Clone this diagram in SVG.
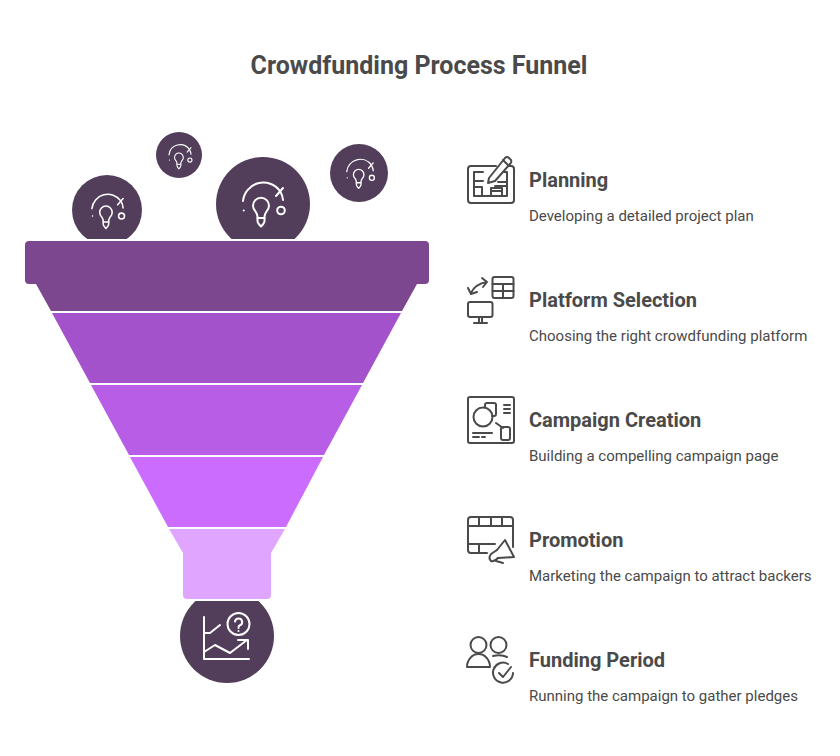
<svg xmlns="http://www.w3.org/2000/svg" width="840" height="756" viewBox="0 0 840 756">
<style>
text{font-family:Roboto,"Liberation Sans",sans-serif;fill:#4a4a4a}
.t{font-size:25px;font-weight:700}
.h{font-size:20px;font-weight:700}
.d{font-size:15px}
.c{fill:#523e5a}
.w{fill:none;stroke:#fff;stroke-width:2;stroke-linecap:round;stroke-linejoin:round}
.i{fill:none;stroke:#4a4a4a;stroke-width:2;stroke-linecap:round;stroke-linejoin:round}
</style>
<defs>
<clipPath id="top"><rect x="0" y="0" width="840" height="239"/></clipPath>
<clipPath id="bot"><rect x="0" y="601" width="840" height="155"/></clipPath>
<g id="bulb" class="w">
<path d="M-20-3A20.500 20.500 0 0 1 17-13Q20-8 20-4"/>
<path d="M13-8 20-16"/>
<path d="M-5.500 14V12.500Q-5.500 10.500-7.500 7.500A8 8 0 1 1 3.500 7.500Q1.500 10.500 1.500 12.500V14Z"/>
<path d="M-5.500 14V17Q-5.500 19-2 22.500Q1.500 19 1.500 17V14"/>
<circle cx="18" cy="6.500" r="3.800"/>
<path d="M-19.300 6.500h.1"/>
</g>
</defs>
<text class="t" x="419" y="74" text-anchor="middle">Crowdfunding Process Funnel</text>
<g id="bubbles">
<g id="bubble-1" clip-path="url(#top)"><circle class="c" cx="107" cy="210" r="35"/><use href="#bulb" transform="translate(107.500 211) scale(.78)"/></g>
<g id="bubble-2"><circle class="c" cx="179" cy="155" r="23"/><use href="#bulb" transform="translate(180 156.500) scale(.55)"/></g>
<g id="bubble-3" clip-path="url(#top)"><circle class="c" cx="263" cy="204" r="47"/><use href="#bulb" transform="translate(263 204)"/></g>
<g id="bubble-4"><circle class="c" cx="359" cy="173" r="29"/><use href="#bulb" transform="translate(360 173.500) scale(.66)"/></g>
</g>
<g id="funnel">
<path id="rim" fill="#7d478f" d="M29 241H425Q429 241 429 245V280Q429 284 425 284H417L402 311H51L36 284H29Q25 284 25 280V245Q25 241 29 241Z"/>
<path id="band-2" fill="#a452cb" d="M52 313H401L363 383H90Z"/>
<path id="band-3" fill="#b85ee6" d="M91 385H362L324 455H129Z"/>
<path id="band-4" fill="#cb6cff" d="M130 457H323L286 527H168Z"/>
<path id="band-5" fill="#e0a6ff" d="M169 529H285L271 553V595Q271 599 267 599H187Q183 599 183 595V553Z"/>
</g>
<g id="outcome">
<g clip-path="url(#bot)"><circle class="c" cx="227" cy="636" r="47"/></g>
<g class="w">
<path d="M204 617V659H249"/>
<path d="M204 633H210L220 625"/>
<path d="M204 652 215 645 230 653 247 640"/>
<path d="M238 640H248V649"/>
<circle cx="238.500" cy="624" r="11"/>
<path d="M235 621.500A3.600 3.600 0 1 1 239.500 625.500Q238.500 626 238.500 628"/>
<path d="M238.500 631v.1"/>
</g>
</g>
<g id="step-planning">
<g class="i">
<path d="M496 166H471Q468 166 468 169V200Q468 203 471 203H511Q514 203 514 200V169Q514 166 511 166H508"/>
<path d="M483 172H474V196H507V172H504"/>
<path d="M474 181H483M474 187H482V196M491 196V188H502V196M491 191H502M498 182H507M495 186H507"/>
<path d="M489 178 505 158Q507 156 509 158L511 160Q512 162 510 164L495 181 488 183Z"/>
<path d="M503 160 509 166"/>
</g>
<text class="h" x="529" y="187">Planning</text>
<text class="d" x="529" y="221">Developing a detailed project plan</text>
</g>
<g id="step-platform">
<g class="i">
<rect x="492.500" y="277" width="21" height="21" rx="2"/>
<path d="M492.500 284H513.500M492.500 291H513.500M503 284V298"/>
<path d="M471 293Q475 284 487 282M482 278 487 282 483 287"/>
<path d="M468 288 471 294 477 292"/>
<rect x="468" y="302" width="24.500" height="15" rx="2"/>
<path d="M479 317V323M482 317V323M474 323H487"/>
</g>
<text class="h" x="529" y="307">Platform Selection</text>
<text class="d" x="529" y="341">Choosing the right crowdfunding platform</text>
</g>
<g id="step-campaign">
<g class="i">
<rect x="468" y="397" width="46" height="46" rx="2"/>
<circle cx="483" cy="417" r="9.500"/>
<path d="M485 407V405Q485 403 487 403H494Q496 403 496 405V414Q496 416 494 416H492"/>
<path d="M496 423 503 428"/>
<rect x="501" y="427" width="9" height="13" rx="2"/>
<path d="M504 405H510M504 409H510M504 413H510M473 433H492M473 437H479M482 437H485"/>
</g>
<text class="h" x="529" y="427">Campaign Creation</text>
<text class="d" x="529" y="461">Building a compelling campaign page</text>
</g>
<g id="step-promotion">
<g class="i">
<path d="M487 553H471Q468 553 468 550V520Q468 517 471 517H510Q513 517 513 520V547"/>
<path d="M468 526H513M479 517V526M491 517V526M502 517V526M468 544H495M479 544V553"/>
<path d="M497 550 505 540 514 557 498 558"/>
<path d="M497 550 491 554Q488 558 491 561 494 562 498 558"/>
<path d="M496 561 503 563"/>
</g>
<text class="h" x="529" y="547">Promotion</text>
<text class="d" x="529" y="581">Marketing the campaign to attract backers</text>
</g>
<g id="step-funding">
<g class="i">
<circle cx="478.500" cy="645" r="8"/>
<circle cx="498.500" cy="645" r="8"/>
<path d="M467 667A11.500 13 0 0 1 490 667Z"/>
<path d="M493 656Q501 654 507 657"/>
<path d="M513 673A10 10 0 1 1 508 664"/>
<path d="M499 673 503 677 511 667"/>
</g>
<text class="h" x="529" y="667">Funding Period</text>
<text class="d" x="529" y="701">Running the campaign to gather pledges</text>
</g>
</svg>
